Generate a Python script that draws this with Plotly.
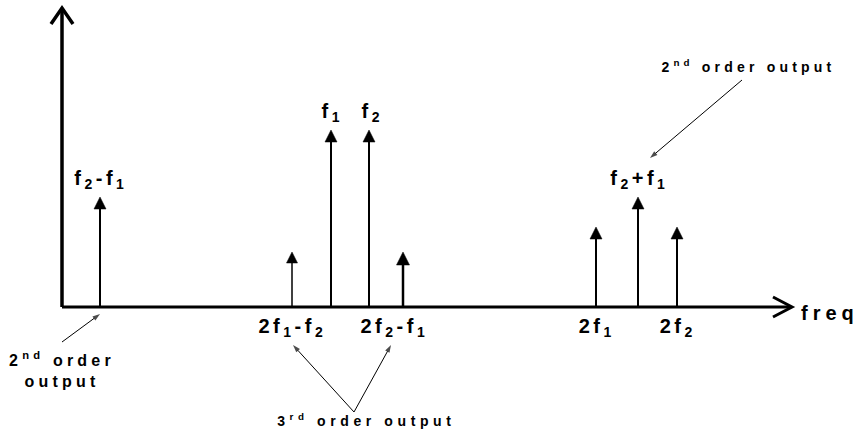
import json
import plotly.graph_objects as go

# ---- data (frequency positions and amplitudes, arbitrary units)
labels_top = ["f<sub>2</sub>-f<sub>1</sub>", "", "f<sub>1</sub>", "f<sub>2</sub>", "", "", "f<sub>2</sub>+f<sub>1</sub>", ""]
labels_bottom = ["", "2f<sub>1</sub>-f<sub>2</sub>", "", "", "2f<sub>2</sub>-f<sub>1</sub>", "2f<sub>1</sub>", "", "2f<sub>2</sub>"]
freq = [38, 230, 269, 307, 341, 534, 576, 615]
amplitude = [110, 55, 177, 177, 55, 80, 110, 80]
stem_width = [2, 1.5, 2, 2, 2.5, 2, 2, 2]
head_size = [12, 11, 12, 12, 13, 12, 12, 12]

FONT = "Liberation Sans, Arial, sans-serif"

fig = go.Figure()

# spectral lines (stems) with arrow heads
for f, a, w in zip(freq, amplitude, stem_width):
    fig.add_trace(go.Scatter(x=[f, f], y=[0, a - 4], mode="lines",
                             line=dict(color="black", width=w),
                             hoverinfo="skip", showlegend=False))
fig.add_trace(go.Scatter(x=freq, y=amplitude, mode="markers",
                         marker=dict(symbol="arrow-up", size=head_size, color="#000000",
                                     opacity=1, line=dict(width=0.5, color="#000000")),
                         hoverinfo="skip", showlegend=False))

ann = []
spacing = []


def add_text(spc, **kw):
    ann.append(kw)
    spacing.append(spc)


big = dict(family=FONT, size=20, color="black")
# labels above tips
label_offsets = {0: 1, 2: 1, 3: 3, 6: 1}
for i, (f, a, t) in enumerate(zip(freq, amplitude, labels_top)):
    if t:
        add_text(3.5, x=f + label_offsets.get(i, 0), y=a + 3, xref="x", yref="y",
                 text="<b>" + t + "</b>", showarrow=False,
                 xanchor="center", yanchor="bottom", font=big)

# labels below baseline
below_offsets = {1: 0, 4: -9, 5: 1, 7: 1}
for i, (f, t) in enumerate(zip(freq, labels_bottom)):
    if t:
        add_text(3.5, x=f + below_offsets.get(i, 0), y=-6, xref="x", yref="y",
                 text="<b>" + t + "</b>", showarrow=False,
                 xanchor="center", yanchor="top", font=big)

# freq axis label
add_text(5, x=768, y=-6, xref="x", yref="y", text="<b>freq</b>", showarrow=False,
         xanchor="center", yanchor="middle", font=dict(family=FONT, size=20, color="black"))

small = dict(family=FONT, size=14, color="black")
add_text(4.2, x=686, y=241, xref="x", yref="y", text="<b>2<sup>nd</sup> order output</b>",
         showarrow=False, xanchor="center", yanchor="middle", font=small)
add_text(4.2, x=0, y=-62, xref="x", yref="y", text="<b>2<sup>nd</sup> order<br>output</b>",
         showarrow=False, xanchor="center", yanchor="middle", align="center",
         font=dict(family=FONT, size=16, color="black"))
add_text(4.6, x=304, y=-113, xref="x", yref="y", text="<b>3<sup>rd</sup> order output</b>",
         showarrow=False, xanchor="center", yanchor="middle", font=small)

# callout arrows (line + oriented arrow marker)
callouts = [
    ((680, 227), (freq[6] + 12, amplitude[6] + 39)),
    ((0, -35), (freq[0], -7)),
    ((292, -105), (freq[1] + 1, -38)),
    ((292, -105), (freq[4] - 12, -38)),
]
for (tx, ty), (hx, hy) in callouts:
    fig.add_trace(go.Scatter(x=[tx, hx], y=[ty, hy], mode="lines+markers",
                             line=dict(color="black", width=1),
                             marker=dict(symbol="arrow", size=[0, 8], angleref="previous",
                                         color="black", line=dict(width=0)),
                             hoverinfo="skip", showlegend=False))

# axes drawn as arrows
shapes = []
axis_line = dict(color="black", width=3.5)
shapes.append(dict(type="path", xref="x", yref="y", path="M 0 0 L 0 298", line=axis_line))
shapes.append(dict(type="path", xref="x", yref="y", path="M -11 283 L 0 299 L 11 283",
                   line=axis_line))
shapes.append(dict(type="path", xref="x", yref="y", path="M 0 0 L 729 0",
                   line=dict(color="black", width=3)))
shapes.append(dict(type="path", xref="x", yref="y", path="M 711 10 L 730 0 L 711 -10",
                   line=dict(color="black", width=3)))

fig.update_layout(
    width=860, height=440,
    margin=dict(l=0, r=0, t=0, b=0),
    paper_bgcolor="white", plot_bgcolor="white",
    xaxis=dict(range=[-62, 798], visible=False, fixedrange=True),
    yaxis=dict(range=[-133, 307], visible=False, fixedrange=True),
    annotations=ann, shapes=shapes, showlegend=False,
)

post = """
document.body.style.margin = '0';
var sp = %s;
document.querySelectorAll('g.annotation').forEach(function(g){
  var i = +g.getAttribute('data-index');
  var t = g.querySelector('text.annotation-text');
  if (t && sp[i] !== undefined) { t.style.letterSpacing = sp[i] + 'px'; }
});
""" % json.dumps(spacing)

fig.write_html("out.html", post_script=post, config={"displayModeBar": False, "staticPlot": True})
